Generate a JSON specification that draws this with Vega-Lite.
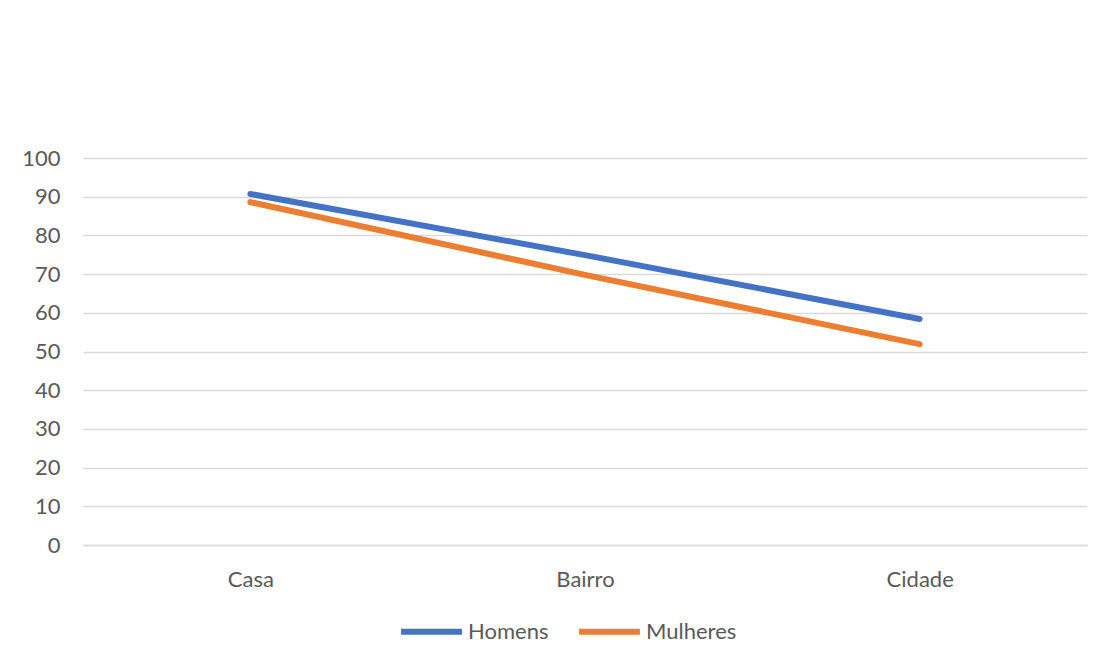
{
  "$schema": "https://vega.github.io/schema/vega-lite/v6.json",
  "width": 1004,
  "height": 387,
  "autosize": {"type": "none"},
  "padding": {"left": 83, "top": 158, "right": 21, "bottom": 121},
  "background": "white",
  "config": {
    "view": {"stroke": null},
    "font": "Lato",
    "axis": {"labelFont": "Lato", "labelColor": "#595959", "labelFontSize": 22, "gridColor": "#d9d9d9", "gridWidth": 1.3, "ticks": false, "domain": false, "title": null}
  },
  "data": {
    "values": [
      {"local": "Casa", "grupo": "Homens", "valor": 90.7},
      {"local": "Bairro", "grupo": "Homens", "valor": 74.9},
      {"local": "Cidade", "grupo": "Homens", "valor": 58.4},
      {"local": "Casa", "grupo": "Mulheres", "valor": 88.6},
      {"local": "Bairro", "grupo": "Mulheres", "valor": 69.8},
      {"local": "Cidade", "grupo": "Mulheres", "valor": 51.9}
    ]
  },
  "mark": {"type": "line", "strokeWidth": 6, "strokeCap": "round", "strokeJoin": "round"},
  "encoding": {
    "x": {
      "field": "local", "type": "nominal", "sort": ["Casa", "Bairro", "Cidade"],
      "scale": {"type": "point", "padding": 0.5},
      "axis": {"labelAngle": 0, "labelPadding": 24, "grid": false, "domain": true, "domainColor": "#d9d9d9", "domainWidth": 1.3}
    },
    "y": {
      "field": "valor", "type": "quantitative",
      "scale": {"domain": [0, 100], "nice": false},
      "axis": {"values": [0, 10, 20, 30, 40, 50, 60, 70, 80, 90, 100], "labelPadding": 23}
    },
    "color": {
      "field": "grupo", "type": "nominal",
      "scale": {"domain": ["Homens", "Mulheres"], "range": ["#4472C4", "#ED7D31"]},
      "legend": {
        "title": null, "orient": "none", "direction": "horizontal",
        "legendX": 315, "legendY": 440,
        "symbolType": "stroke", "symbolSize": 3700, "symbolStrokeWidth": 6,
        "labelFontSize": 22, "labelColor": "#595959", "labelFont": "Lato",
        "labelOffset": 3, "columnPadding": 18
      }
    }
  }
}
